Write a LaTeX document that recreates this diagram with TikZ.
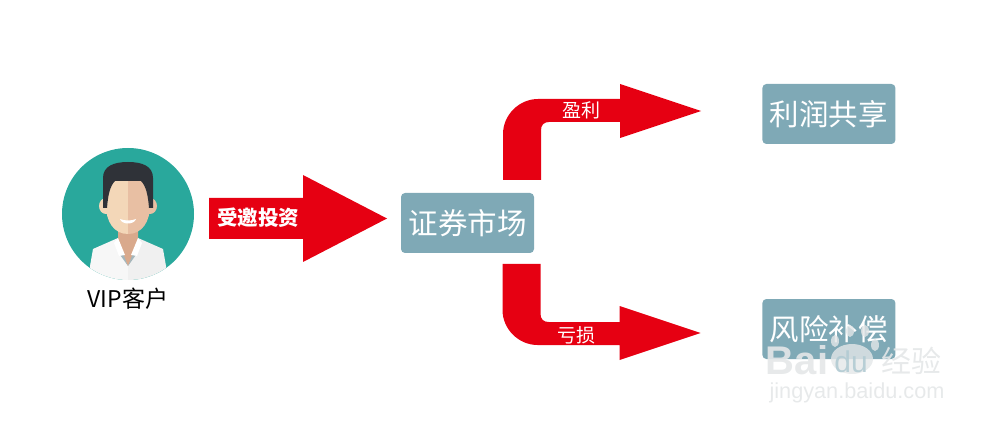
\documentclass[tikz,border=0pt]{standalone}
\usepackage{fontspec}
\setmainfont{Noto Sans CJK SC}
\newfontfamily\wmfont{Liberation Sans}
\usetikzlibrary{positioning}
\definecolor{arrowred}{HTML}{E60012}
\definecolor{boxblue}{HTML}{7FA9B6}
\definecolor{avatarteal}{HTML}{29A89C}
\definecolor{hairdark}{HTML}{2F3238}
\definecolor{skinlight}{HTML}{F3D7B8}
\definecolor{skindark}{HTML}{E8BFA3}
\definecolor{neckskin}{HTML}{D9A98C}
\definecolor{wmgrey}{HTML}{E4E7E8}
\tikzset{
  box/.style     = {fill=boxblue, rounded corners=4pt, text=white, inner sep=0pt,
                    minimum width=133pt, minimum height=60pt,
                    font=\fontsize{29.5}{29.5}\selectfont},
  redarrow/.style = {fill=arrowred, draw=none},
  arrowtext/.style = {text=white, inner sep=0pt, font=\fontsize{19}{19}\selectfont},
  watermark/.style = {text=wmgrey, inner sep=0pt, opacity=0.9}
}
\begin{document}
\begin{tikzpicture}[x=1pt, y=-1pt]
\useasboundingbox (0,0) rectangle (1000,427);

% avatar
\node[circle, fill=avatarteal, minimum size=132pt, inner sep=0pt] (avatar) at (128,214) {};
\begin{scope}
\clip (128,214) circle (66);
\fill[white!94!gray] (90,266) -- (93,249) -- (118,238) -- (128,238) -- (128,285) -- (90,285) -- cycle;
\fill[white!88!gray] (166,266) -- (163,249) -- (138,238) -- (128,238) -- (128,285) -- (166,285) -- cycle;
\end{scope}
\fill[neckskin] (118,222) -- (138,222) -- (138,245) -- (128,266) -- (118,245) -- cycle;
\fill[gray!45!boxblue!70!white] (119,243) -- (128,266) -- (118,252) -- cycle;
\fill[gray!45!boxblue!70!white] (137,243) -- (128,266) -- (138,252) -- cycle;
\fill[white] (118,238) -- (125,255) -- (119,256) -- (114,243) -- cycle;
\fill[white] (138,238) -- (131,255) -- (137,256) -- (142,243) -- cycle;
% head
\fill[skinlight] (106,206) ellipse (7 and 8);
\fill[skindark] (150,206) ellipse (7 and 8);
\fill[skinlight] (128,180) -- (128,234) .. controls (114,234) and (106,222) .. (106,205)
  -- (106,180) -- cycle;
\fill[skindark] (128,180) -- (128,234) .. controls (142,234) and (150,222) .. (150,205)
  -- (150,180) -- cycle;
\fill[hairdark] (103,208) -- (103,178) .. controls (103,166) and (114,162) .. (128,162)
  .. controls (142,162) and (153,166) .. (153,178) -- (153,208) -- (149,208)
  .. controls (148,195) and (146,186) .. (141,181) -- (115,181)
  .. controls (110,186) and (108,195) .. (107,208) -- cycle;
\fill[white] (120,219) .. controls (125,221) and (131,221) .. (136,219)
  .. controls (134,225) and (122,225) .. (120,219) -- cycle;
\node[below=8pt of avatar, inner sep=0pt, font=\fontsize{23}{23}\selectfont] (vip) {VIP客户};

% boxes
\node[box] (market) at (467.5,223) {证券市场};
\node[box, right=228pt of market, yshift=109pt] (profit) {利润共享};
\node[box, right=228pt of market, yshift=-106pt] (risk) {风险补偿};

% arrows
\coordinate (investstart) at (209,198);
\coordinate (upstart) at (503,180);
\coordinate (downstart) at (502.5,264);

\fill[redarrow] (investstart) -- ++(94,0) -- ++(0,-23) -- ++(84,43.5) -- ++(-84,43.5)
  -- ++(0,-23) -- ++(-94,0) -- cycle;

\foreach \start/\d in {upstart/1, downstart/-1}
  \fill[redarrow] (\start) -- ++(0,-46*\d)
    .. controls +(0,-19*\d) and +(-19,0) .. ++(35,-35*\d)
    -- ++(82,0) -- ++(0,-15*\d) -- ++(81,27*\d) -- ++(-81,27*\d) -- ++(0,-16*\d)
    -- ++(-71,0) .. controls +(-5,0) and +(0,-5*\d) .. ++(-8,8*\d)
    -- ++(0,50*\d) -- cycle;

\node[arrowtext, font=\fontsize{20.5}{20.5}\selectfont\bfseries] (invest) at (258,218) {受邀投资};
\node[arrowtext] (gain) at (581,110) {盈利};
\node[arrowtext] (loss) at (576,335) {亏损};

% watermark
\fill[wmgrey, opacity=0.8] (835,341) ellipse (4 and 6) (850,331) ellipse (4 and 6)
  (865,331) ellipse (4 and 6) (875,345) ellipse (4 and 6) (852,359) ellipse (21 and 15);
\begin{scope}[every node/.style={watermark}]
\node[font=\wmfont\bfseries\fontsize{40}{40}\selectfont] (wmbai) at (797,360) {Bai};
\node[font=\wmfont\fontsize{30}{30}\selectfont, text=boxblue!60!white] (wmdu) at (851,362) {du};
\node[font=\fontsize{30}{30}\selectfont] (wmjing) at (911,361) {经验};
\node[font=\wmfont\fontsize{21.7}{21.7}\selectfont] (wmurl) at (857,393) {jingyan.baidu.com};
\end{scope}
\end{tikzpicture}
\end{document}
